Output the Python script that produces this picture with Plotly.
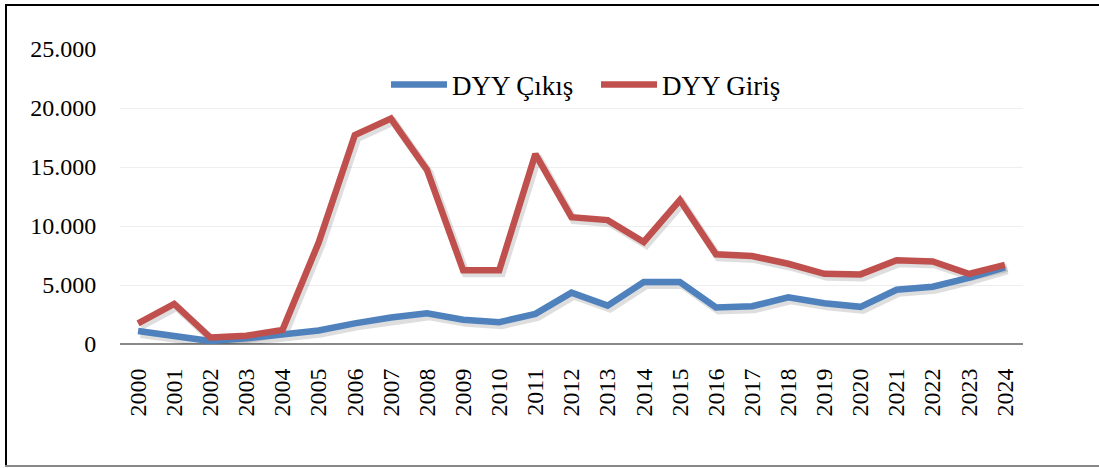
import plotly.graph_objects as go

years = [str(y) for y in range(2000, 2025)]
dyy_cikis = [1100, 620, 250, 480, 850, 1150, 1750, 2250, 2600, 2050, 1850, 2550,
             4350, 3250, 5250, 5250, 3100, 3200, 3950, 3450, 3150, 4600, 4850, 5600, 6500]
dyy_giris = [1750, 3400, 550, 700, 1200, 8600, 17700, 19100, 14750, 6250, 6250, 16100,
             10750, 10500, 8650, 12200, 7600, 7450, 6800, 5950, 5900, 7100, 7000, 5950, 6700]
ytick_vals = [0, 5000, 10000, 15000, 20000, 25000]
ytick_text = ["0", "5.000", "10.000", "15.000", "20.000", "25.000"]

FONT = "Liberation Serif"
BLUE = "#4F81BD"
RED = "#C0504D"
SHADOW = "rgba(0,0,0,0.13)"

W, H = 1099, 468
L, R, T, B = 120, 76, 49, 124
pw, ph = W - L - R, H - T - B
n = len(years)
YMAX = 25000
sdx, sdy = 2.5, 3.0
cat_per_px = n / pw
val_per_px = YMAX / ph

fig = go.Figure()
for vals in (dyy_cikis, dyy_giris):
    fig.add_trace(go.Scatter(x=years, y=vals, mode="lines", showlegend=False,
                             hoverinfo="skip", xaxis="x2", yaxis="y2",
                             line=dict(color=SHADOW, width=8)))
fig.add_trace(go.Scatter(x=years, y=dyy_cikis, mode="lines", name="DYY Çıkış",
                         xaxis="x3", yaxis="y3", line=dict(color=BLUE, width=6.5)))
fig.add_trace(go.Scatter(x=years, y=dyy_giris, mode="lines", name="DYY Giriş",
                         xaxis="x3", yaxis="y3", line=dict(color=RED, width=6.5)))
fig.add_trace(go.Scatter(x=years, y=[None] * n, mode="lines", showlegend=False,
                         hoverinfo="skip"))

hidden = dict(visible=False, showgrid=False, zeroline=False)
fig.update_layout(
    width=W, height=H,
    margin=dict(l=L, r=R, t=T, b=B, pad=0),
    paper_bgcolor="white", plot_bgcolor="white",
    font=dict(family=FONT, size=24, color="black"),
    showlegend=True,
    legend=dict(orientation="h", x=(386 - L) / pw, y=(H - B - 85) / ph,
                xanchor="left", yanchor="middle",
                font=dict(family=FONT, size=27), bgcolor="rgba(0,0,0,0)",
                itemwidth=56, tracegroupgap=0,
                entrywidth=139, entrywidthmode="pixels"),
    xaxis=dict(type="category", range=[-0.5, n - 0.5], tickangle=-90, showgrid=False,
               showline=False, zeroline=False, ticks="outside", ticklen=14,
               tickcolor="white", tickfont=dict(family=FONT, size=24)),
    yaxis=dict(range=[0, YMAX], tickvals=ytick_vals, ticktext=ytick_text,
               showgrid=True, gridcolor="#EEEEEE", gridwidth=1,
               zeroline=True, zerolinecolor="#888888", zerolinewidth=2,
               showline=False, ticks="outside", ticklen=18, tickcolor="white",
               tickfont=dict(family=FONT, size=24)),
    xaxis2=dict(type="category", overlaying="x",
                range=[-0.5 - sdx * cat_per_px, n - 0.5 - sdx * cat_per_px], **hidden),
    yaxis2=dict(overlaying="y", range=[sdy * val_per_px, YMAX + sdy * val_per_px], **hidden),
    xaxis3=dict(type="category", overlaying="x", range=[-0.5, n - 0.5], **hidden),
    yaxis3=dict(overlaying="y", range=[0, YMAX], **hidden),
)

def px(x):
    return (x - L) / pw
def py(y):
    return (H - B - y) / ph

fig.add_shape(type="line", xref="paper", yref="paper",
              x0=px(5), x1=px(1099), y0=py(5), y1=py(5),
              line=dict(color="black", width=2))
fig.add_shape(type="line", xref="paper", yref="paper",
              x0=px(6), x1=px(6), y0=py(5), y1=py(466),
              line=dict(color="black", width=2))
fig.add_shape(type="line", xref="paper", yref="paper",
              x0=px(5), x1=px(1099), y0=py(466), y1=py(466),
              line=dict(color="#888888", width=2))

fig.write_html("out.html", config={"displayModeBar": False},
               post_script="document.body.style.margin='0';document.body.style.overflow='hidden';")
